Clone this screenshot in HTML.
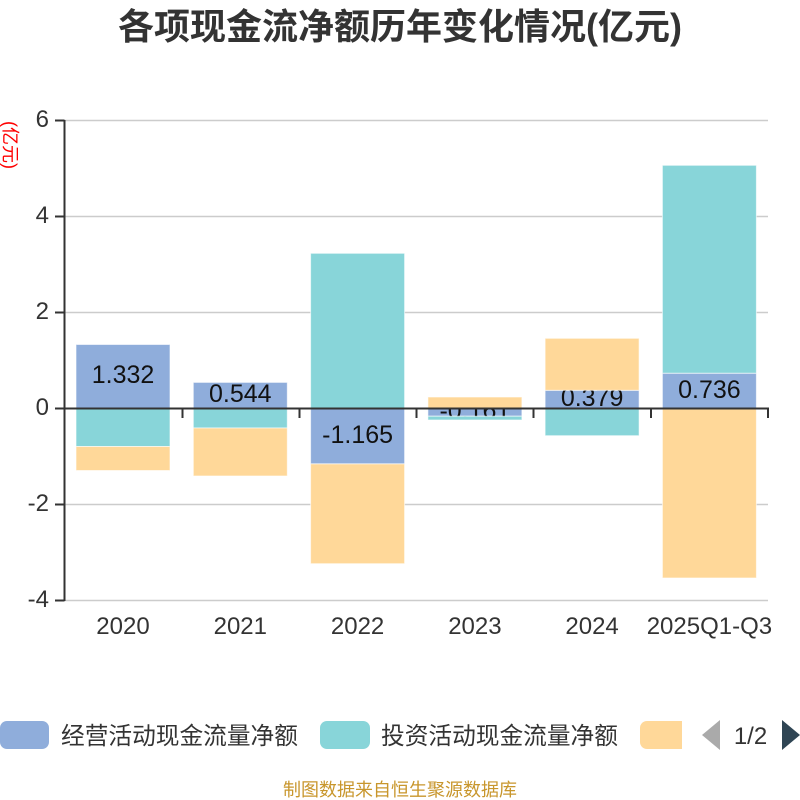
<!DOCTYPE html>
<html><head><meta charset="utf-8"><style>
html,body{margin:0;padding:0;background:#fff;}
svg{display:block;}
</style></head><body>
<svg width="800" height="800" viewBox="0 0 800 800" xmlns="http://www.w3.org/2000/svg">
<rect width="800" height="800" fill="#fff"/>
<text x="400" y="39" text-anchor="middle" font-family="Liberation Sans, Noto Sans CJK SC, sans-serif" font-weight="bold" font-size="36" fill="#333">各项现金流净额历年变化情况(亿元)</text>
<text transform="translate(4,145) rotate(90)" text-anchor="middle" font-family="Liberation Sans, Noto Sans CJK SC, sans-serif" font-size="18" fill="#f00">(亿元)</text>
<g stroke="#ccc" stroke-width="1.5">
<line x1="64.5" y1="120.5" x2="768" y2="120.5"/>
<line x1="64.5" y1="216.5" x2="768" y2="216.5"/>
<line x1="64.5" y1="312.5" x2="768" y2="312.5"/>
<line x1="64.5" y1="504.5" x2="768" y2="504.5"/>
<line x1="64.5" y1="600.5" x2="768" y2="600.5"/>
</g>
<g font-family="Liberation Sans, sans-serif" font-size="24" fill="#333" text-anchor="end">
<text x="49" y="127">6</text>
<text x="49" y="223">4</text>
<text x="49" y="319">2</text>
<text x="49" y="415">0</text>
<text x="49" y="511">-2</text>
<text x="49" y="607">-4</text>
</g>
<g stroke="rgba(255,255,255,0.6)" stroke-width="1">
<rect x="76" y="344.5" width="94" height="64" fill="#8FADDB"/>
<rect x="193.3" y="382.4" width="94" height="26.1" fill="#8FADDB"/>
<rect x="310.6" y="408.5" width="94" height="55.4" fill="#8FADDB"/>
<rect x="427.9" y="408.5" width="94" height="7.7" fill="#8FADDB"/>
<rect x="545.1" y="390.3" width="94" height="18.2" fill="#8FADDB"/>
<rect x="662.4" y="373.2" width="94" height="35.3" fill="#8FADDB"/>
</g>
<g font-family="Liberation Sans, sans-serif" font-size="25" fill="#111" text-anchor="middle">
<text x="123" y="383">1.332</text>
<text x="240.3" y="402">0.544</text>
<text x="357.6" y="443">-1.165</text>
<text x="474.9" y="419">-0.161</text>
<text x="592.1" y="406">0.379</text>
<text x="709.4" y="398">0.736</text>
</g>
<g stroke="rgba(255,255,255,0.6)" stroke-width="1">
<rect x="76" y="408.5" width="94" height="38" fill="#88D5D9"/>
<rect x="193.3" y="408.5" width="94" height="19.5" fill="#88D5D9"/>
<rect x="310.6" y="253.3" width="94" height="155.2" fill="#88D5D9"/>
<rect x="427.9" y="416.2" width="94" height="3.8" fill="#88D5D9"/>
<rect x="545.1" y="408.5" width="94" height="27.2" fill="#88D5D9"/>
<rect x="662.4" y="165.3" width="94" height="207.9" fill="#88D5D9"/>
<rect x="76" y="446.5" width="94" height="24" fill="#FFD899"/>
<rect x="193.3" y="428" width="94" height="48" fill="#FFD899"/>
<rect x="310.6" y="463.9" width="94" height="99.8" fill="#FFD899"/>
<rect x="427.9" y="397" width="94" height="11.5" fill="#FFD899"/>
<rect x="545.1" y="338.3" width="94" height="52" fill="#FFD899"/>
<rect x="662.4" y="408.5" width="94" height="169.5" fill="#FFD899"/>
</g>
<g stroke="#333" stroke-width="2" fill="none">
<line x1="64.5" y1="120" x2="64.5" y2="601"/>
<line x1="55" y1="120.5" x2="64.5" y2="120.5"/>
<line x1="55" y1="216.5" x2="64.5" y2="216.5"/>
<line x1="55" y1="312.5" x2="64.5" y2="312.5"/>
<line x1="55" y1="408.5" x2="64.5" y2="408.5"/>
<line x1="55" y1="504.5" x2="64.5" y2="504.5"/>
<line x1="55" y1="600.5" x2="64.5" y2="600.5"/>
<line x1="64.5" y1="408.5" x2="769" y2="408.5"/>
<line x1="182.5" y1="408.5" x2="182.5" y2="418"/>
<line x1="299.5" y1="408.5" x2="299.5" y2="418"/>
<line x1="416.5" y1="408.5" x2="416.5" y2="418"/>
<line x1="533.5" y1="408.5" x2="533.5" y2="418"/>
<line x1="651" y1="408.5" x2="651" y2="418"/>
<line x1="768" y1="408.5" x2="768" y2="418"/>
</g>
<g font-family="Liberation Sans, sans-serif" font-size="24" fill="#333" text-anchor="middle">
<text x="123" y="634">2020</text>
<text x="240.3" y="634">2021</text>
<text x="357.6" y="634">2022</text>
<text x="474.9" y="634">2023</text>
<text x="592.1" y="634">2024</text>
<text x="709.4" y="634">2025Q1-Q3</text>
</g>
<rect x="0" y="721" width="49" height="28" rx="7" fill="#8FADDB"/>
<text x="61" y="744" font-family="Liberation Sans, Noto Sans CJK SC, sans-serif" font-size="23.7" fill="#333">经营活动现金流量净额</text>
<rect x="320" y="721" width="50" height="28" rx="7" fill="#88D5D9"/>
<text x="381" y="744" font-family="Liberation Sans, Noto Sans CJK SC, sans-serif" font-size="23.7" fill="#333">投资活动现金流量净额</text>
<path d="M647,721 H682 V749 H647 A7,7 0 0 1 640,742 V728 A7,7 0 0 1 647,721 Z" fill="#FFD899"/>
<polygon points="702,735 720,720 720,750" fill="#aaa"/>
<text x="750.5" y="744" text-anchor="middle" font-family="Liberation Sans, sans-serif" font-size="24" fill="#333">1/2</text>
<polygon points="782,720 800,735 782,750" fill="#2f4554"/>
<text x="400" y="796" text-anchor="middle" font-family="Liberation Sans, Noto Sans CJK SC, sans-serif" font-size="18" fill="#c8962c">制图数据来自恒生聚源数据库</text>
</svg>
</body></html>
